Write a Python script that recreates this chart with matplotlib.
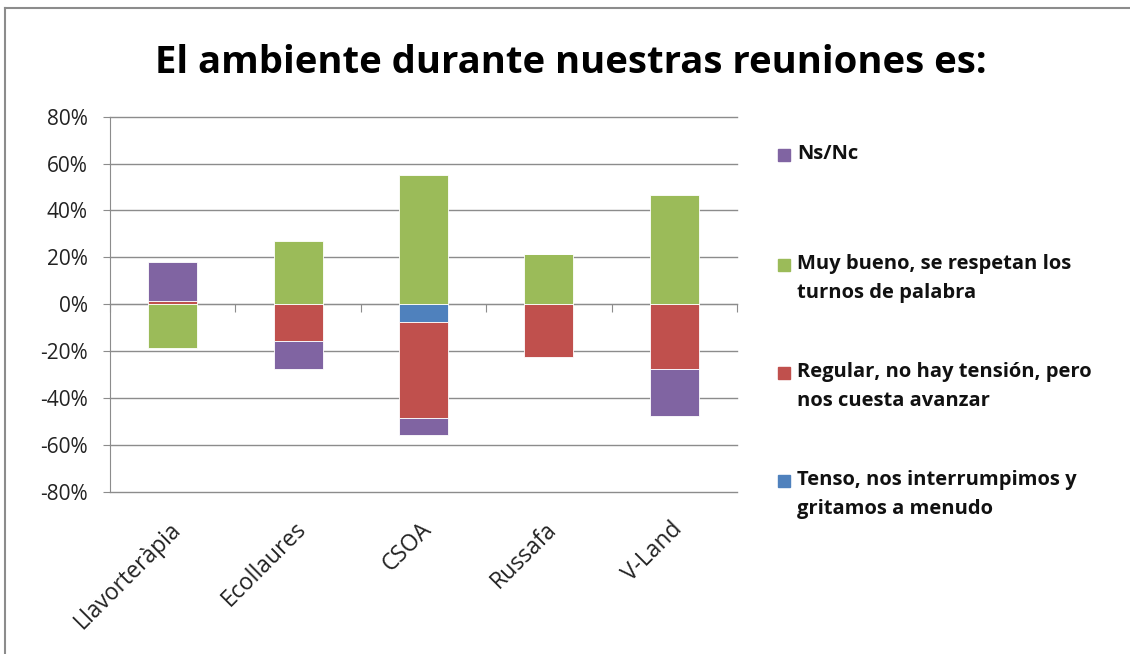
import matplotlib.pyplot as plt
import matplotlib.transforms as mtransforms
from matplotlib.lines import Line2D
from matplotlib.patches import Rectangle
from matplotlib.ticker import PercentFormatter
import numpy as np

plt.rcParams['font.family'] = ['Open Sans', 'DejaVu Sans']
plt.rcParams['axes.unicode_minus'] = False

# data (percent), sign gives the side of the zero line
groups = ['Llavorteràpia', 'Ecollaures', 'CSOA', 'Russafa', 'V-Land']
tenso = [0, 0, -7.8, 0, 0]
regular = [1.3, -15.5, -40.9, -22.5, -27.7]
muy_bueno = [-18.6, 27.0, 55.0, 21.5, 46.6]
ns_nc = [16.5, -12.1, -7.3, 0, -19.9]

series_names = ['Tenso, nos interrumpimos y\ngritamos a menudo',
                'Regular, no hay tensión, pero\nnos cuesta avanzar',
                'Muy bueno, se respetan los\nturnos de palabra',
                'Ns/Nc']
series_vals = [tenso, regular, muy_bueno, ns_nc]
colors = ['#4F81BD', '#C0504D', '#9BBB59', '#8064A2']

W, H = 1130, 654
fig = plt.figure(figsize=(W / 100, H / 100), dpi=100)
ax = fig.add_axes([110 / W, 1 - 491.7 / H, (737 - 110) / W, (491.7 - 116.7) / H])

x = np.arange(len(groups))
pos_base = np.zeros(len(groups))
neg_base = np.zeros(len(groups))
for vals, col in zip(series_vals, colors):
    v = np.array(vals, dtype=float)
    bottoms = np.where(v >= 0, pos_base, neg_base)
    ax.bar(x, v, 0.39, bottom=bottoms, color=col, edgecolor='white', linewidth=0.6, zorder=3)
    pos_base += np.clip(v, 0, None)
    neg_base += np.clip(v, None, 0)

ax.set_xlim(-0.5, len(groups) - 0.5)
ax.set_ylim(-80, 80)
ax.set_yticks(np.arange(-80, 81, 20))
ax.yaxis.set_major_formatter(PercentFormatter(decimals=0))
ax.yaxis.grid(True, color='#8c8c8c', linewidth=1)
for gl in ax.get_ygridlines():
    gl.set_clip_on(False)
ax.set_axisbelow(True)

for s in ['top', 'right']:
    ax.spines[s].set_visible(False)
ax.spines['left'].set_color('#8c8c8c')
ax.spines['bottom'].set_color('#8c8c8c')
ax.spines['bottom'].set_position(('data', 0))

ax.tick_params(axis='y', length=5, color='#8c8c8c', pad=11, labelsize=15, labelcolor='#222222')
ax.set_xticks(np.arange(-0.5, len(groups), 1.0))
ax.set_xticklabels([])
ax.tick_params(axis='x', length=6, color='#8c8c8c', direction='out')

trans = mtransforms.blended_transform_factory(ax.transData, ax.transAxes)
for i, g in enumerate(groups):
    ax.text(i - 0.03, -0.068, g, transform=trans, rotation=45, ha='right', va='top',
            rotation_mode='anchor', fontsize=16.5, color='#222222')

fig.text(571 / W, 1 - 73 / H, 'El ambiente durante nuestras reuniones es:',
         ha='center', va='baseline', fontsize=27.5, fontweight='bold', color='black')

# legend, drawn top to bottom in reverse series order
first_line_y = [481, 373, 265, 155]
for name, col, yc in zip(series_names, colors, first_line_y):
    fig.add_artist(Rectangle((778 / W, 1 - (yc + 6) / H), 12 / W, 12 / H,
                             transform=fig.transFigure, color=col))
    fig.text(797 / W, 1 - (yc - 11) / H, name, ha='left', va='top', fontsize=14.5,
             fontweight='bold', color='#111111', linespacing=1.6)

# outer frame
fig.add_artist(Line2D([5 / W, 5 / W], [0, 1 - 8 / H], color='#8c8c8c', linewidth=1.5))
fig.add_artist(Line2D([5 / W, 1], [1 - 8 / H, 1 - 8 / H], color='#8c8c8c', linewidth=1.5))

fig.savefig('out.png', dpi=100)
